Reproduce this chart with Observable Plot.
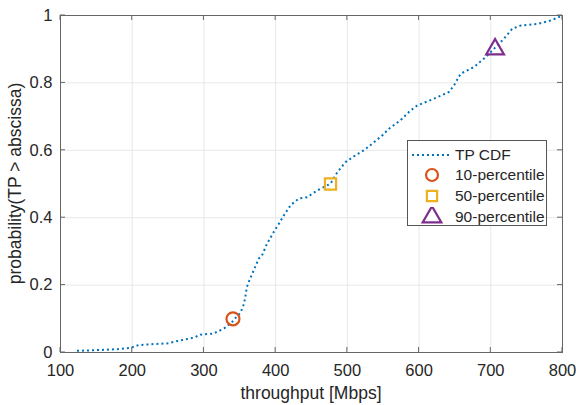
<!DOCTYPE html>
<html><head><meta charset="utf-8">
<script src="https://cdn.jsdelivr.net/npm/d3@7"></script>
<script src="https://cdn.jsdelivr.net/npm/@observablehq/plot@0.6"></script>
<style>
body{margin:0;background:#fff;}
#wrap{position:relative;width:576px;height:405px;font-family:"Liberation Sans",Arial,sans-serif;}
#legend{position:absolute;left:407px;top:140px;width:140px;height:86px;border:1px solid #555;background:#fff;box-sizing:border-box;font-size:15.5px;color:#262626;}
#legend .row{position:absolute;left:0;height:20px;display:flex;align-items:center;}
#legend svg{display:block}
</style></head>
<body><div id="wrap"><div id="chart"></div><div id="legend"></div></div>
<script>
const throughput = [123,140,160,180,197.6,209,230,249,263,286,295,313,328,339.5,343,351,356,360,363,367.4,376.6,381,388,397.5,404.5,411.5,420.8,432.4,444,458,476.6,486,497.5,509,523,532,548.6,558,574,588,597.5,620.6,641.6,648.5,657.9,676.4,692.7,704.3,718.3,730,741.6,764.9,783.4,798];
const probability = [0.005,0.006,0.008,0.010,0.014,0.022,0.025,0.027,0.034,0.044,0.053,0.056,0.071,0.091,0.100,0.118,0.145,0.195,0.212,0.234,0.279,0.288,0.323,0.358,0.382,0.407,0.437,0.457,0.461,0.481,0.501,0.535,0.565,0.582,0.600,0.615,0.644,0.664,0.689,0.718,0.733,0.753,0.773,0.792,0.827,0.847,0.876,0.901,0.931,0.961,0.970,0.975,0.985,0.998];
const pctNames = ["10-percentile","50-percentile","90-percentile"];
const pctX = [340.5,476.5,706];
const pctY = [0.1,0.5,0.9];
const pctSymbols = ["circle","square","triangle"];
const pctColors = ["#D95319","#EDB120","#7E2F8E"];
const xTicks = [100,200,300,400,500,600,700,800];
const yTicks = [0,0.2,0.4,0.6,0.8,1];
const yTickLabels = ["0","0.2","0.4","0.6","0.8","1"];
const xLabel = "throughput [Mbps]";
const yLabel = "probability(TP > abscissa)";
const lineName = "TP CDF";
const lineColor = "#0072BD";

const cdf = throughput.map((x,i)=>({x, y: probability[i]}));
const pcts = pctNames.map((n,i)=>({name:n, x:pctX[i], y:pctY[i], symbol:pctSymbols[i], color:pctColors[i]}));
const symR = {circle: 6.5, square: 6.3, triangle: 6.6};
const dash = "2 3";

const tickLen = 5;
const chart = Plot.plot({
  width: 576, height: 405,
  marginLeft: 60, marginRight: 14, marginTop: 15, marginBottom: 53,
  style: {fontFamily: '"Liberation Sans", Arial, sans-serif', color: "#262626", background: "#fff"},
  x: {domain: [100,800]},
  y: {domain: [0,1]},
  r: {type: "identity"},
  marks: [
    Plot.gridX(xTicks, {stroke: "#e8e8e8", strokeOpacity: 1}),
    Plot.gridY(yTicks, {stroke: "#e8e8e8", strokeOpacity: 1}),
    Plot.line(cdf, {x: "x", y: "y", stroke: lineColor, strokeWidth: 2, strokeDasharray: dash, strokeLinecap: "butt"}),
    Plot.dot(pcts, {x: "x", y: "y", symbol: "symbol", stroke: "color", r: d => symR[d.symbol], strokeWidth: 2.2, fill: "none"}),
    Plot.axisX(xTicks, {tickSize: 0, tickPadding: 12, fontSize: 16.5, label: null}),
    Plot.axisY(yTicks, {tickSize: 0, tickPadding: 8, fontSize: 16.5, tickFormat: d => yTickLabels[yTicks.indexOf(d)], label: null}),
    Plot.frame({stroke: "#666"})
  ]
});
document.getElementById("chart").appendChild(chart);

const sx = chart.scale("x"), sy = chart.scale("y");
const svg = d3.select(chart);
const x0 = sx.apply(100), x1 = sx.apply(800), y0 = sy.apply(0), y1 = sy.apply(1);
// inward tick marks
const g = svg.append("g").attr("stroke","#666").attr("stroke-width",1);
xTicks.forEach(t => {
  const px = sx.apply(t);
  g.append("line").attr("x1",px).attr("x2",px).attr("y1",y0).attr("y2",y0-tickLen);
  g.append("line").attr("x1",px).attr("x2",px).attr("y1",y1).attr("y2",y1+tickLen);
});
yTicks.forEach(t => {
  const py = sy.apply(t);
  g.append("line").attr("x1",x0).attr("x2",x0+tickLen).attr("y1",py).attr("y2",py);
  g.append("line").attr("x1",x1).attr("x2",x1-tickLen).attr("y1",py).attr("y2",py);
});
// axis labels
svg.append("text").attr("x", (x0+x1)/2).attr("y", 399).attr("text-anchor","middle")
  .attr("font-size", 17.5).attr("fill","#262626").text(xLabel);
svg.append("text").attr("transform", `translate(21,${(y0+y1)/2}) rotate(-90)`).attr("text-anchor","middle")
  .attr("font-size", 17.5).attr("fill","#262626").text(yLabel);

// legend
const leg = document.getElementById("legend");
const rows = [{name: lineName, kind: "line"}].concat(pcts.map(p => ({name: p.name, kind: p.symbol, color: p.color})));
rows.forEach((r,i) => {
  const div = document.createElement("div");
  div.className = "row";
  div.style.top = (3.5 + i*20.7) + "px";
  const s = d3.create("svg").attr("width", 46).attr("height", 20);
  if (r.kind === "line") {
    s.append("line").attr("x1",4).attr("x2",43).attr("y1",10).attr("y2",10)
      .attr("stroke",lineColor).attr("stroke-width",2).attr("stroke-dasharray",dash);
  } else {
    const sym = {circle: d3.symbolCircle, square: d3.symbolSquare, triangle: d3.symbolTriangle}[r.kind];
    const rr = symR[r.kind] * (r.kind === "triangle" ? 1.05 : 0.92);
    s.append("path").attr("transform","translate(24,10)")
      .attr("d", d3.symbol(sym, Math.PI*rr*rr)())
      .attr("fill","none").attr("stroke",r.color).attr("stroke-width",2.2);
  }
  div.appendChild(s.node());
  const t = document.createElement("span");
  t.textContent = r.name;
  t.style.marginLeft = "1px";
  div.appendChild(t);
  leg.appendChild(div);
});
</script></body></html>
